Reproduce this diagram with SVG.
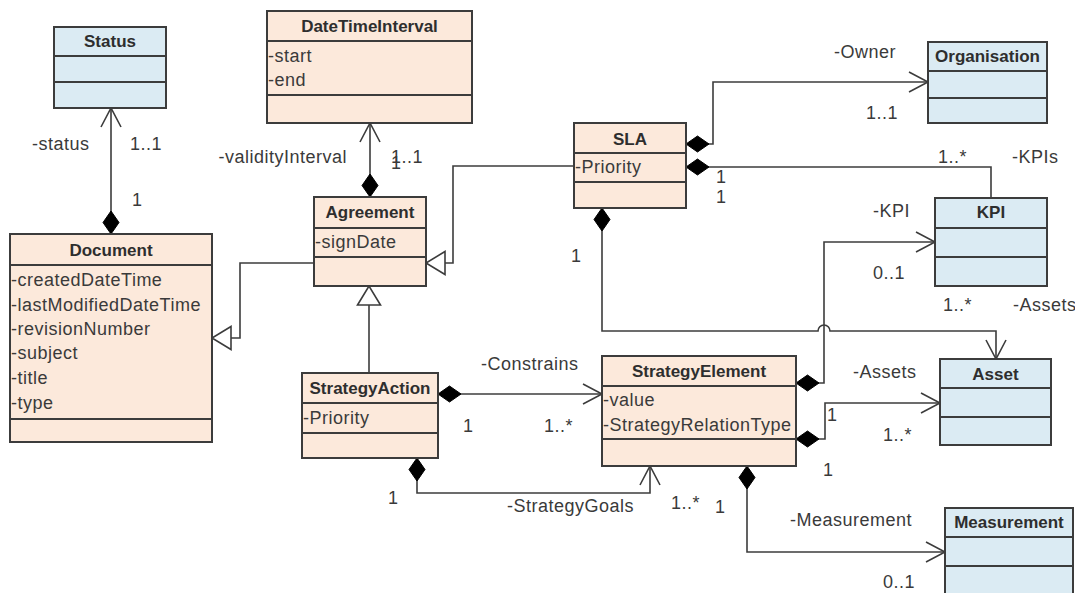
<svg xmlns="http://www.w3.org/2000/svg" width="1075" height="593" viewBox="0 0 1075 593">
<style>
  .peach { fill: #fce9db; stroke: #3c3c3c; stroke-width: 2; }
  .blue { fill: #dbebf3; stroke: #3c3c3c; stroke-width: 2; }
  .div { stroke: #3c3c3c; stroke-width: 2; }
  .title { font-family: "Liberation Sans", Arial, sans-serif; font-size: 17px; font-weight: bold; fill: #2e2e2e; text-anchor: middle; }
  .attr { font-family: "Liberation Sans", Arial, sans-serif; font-size: 18px; letter-spacing: 0.5px; fill: #3a3a3a; }
  .lbl { font-family: "Liberation Sans", Arial, sans-serif; font-size: 18px; letter-spacing: 0.5px; fill: #3a3a3a; }
  .end { text-anchor: end; }
  .conn path { fill: none; stroke: #3c3c3c; stroke-width: 1.6; }
  .comp { marker-start: url(#diamond); }
  .nav { marker-end: url(#open); }
  .gen { marker-end: url(#tri); }
</style>
<defs>
  <marker id="open" markerUnits="userSpaceOnUse" markerWidth="22" markerHeight="22" viewBox="0 0 22 22" refX="20" refY="11" orient="auto">
    <path d="M1,1 L20,11 L1,21" fill="none" stroke="#3c3c3c" stroke-width="1.6"/>
  </marker>
  <marker id="diamond" markerUnits="userSpaceOnUse" markerWidth="26" markerHeight="18" viewBox="0 0 26 18" refX="1" refY="9" orient="auto">
    <path d="M1,9 L12.5,1 L24,9 L12.5,17 Z" fill="#000" stroke="#000" stroke-width="1"/>
  </marker>
  <marker id="tri" markerUnits="userSpaceOnUse" markerWidth="22" markerHeight="26" viewBox="0 0 22 26" refX="20" refY="13" orient="auto">
    <path d="M1,1.5 L20,13 L1,24.5 Z" fill="#fff" stroke="#3c3c3c" stroke-width="1.6"/>
  </marker>
</defs>
<rect width="1075" height="593" fill="#fff"/>

<g id="connectors" class="conn">
  <path class="comp nav" d="M111,234 L111,108"/>
  <path class="comp nav" d="M370,197 L370,123"/>
  <path class="gen" d="M574,166 L453,166 L453,263 L426,263"/>
  <path class="gen" d="M314,263 L240,263 L240,338 L212,338"/>
  <path class="gen" d="M369,373 L369,286"/>
  <path class="comp nav" d="M686,144 L713,144 L713,82 L928,82"/>
  <path class="comp" d="M686,167 L991,167 L991,198"/>
  <path class="comp nav" d="M602,208 L602,331 L818,331 A6,6 0 0 1 830,331 L996,331 L996,359"/>
  <path class="comp nav" d="M796,383 L824,383 L824,242 L935,242"/>
  <path class="comp nav" d="M796,439 L825,439 L825,403 L940,403"/>
  <path class="comp nav" d="M747,466 L747,552 L945,552"/>
  <path class="comp nav" d="M438,394 L602,394"/>
  <path class="comp nav" d="M417,458 L417,493 L650,493 L650,466"/>
</g>

<g id="Status">
  <rect class="blue" x="54" y="27" width="112" height="81"/>
  <line class="div" x1="54" y1="56" x2="166" y2="56"/>
  <line class="div" x1="54" y1="82" x2="166" y2="82"/>
  <text class="title" x="110" y="47">Status</text>
</g>

<g id="DateTimeInterval">
  <rect class="peach" x="267" y="11" width="205" height="112"/>
  <line class="div" x1="267" y1="41" x2="472" y2="41"/>
  <line class="div" x1="267" y1="95" x2="472" y2="95"/>
  <text class="title" x="369.5" y="32">DateTimeInterval</text>
  <text class="attr" x="268" y="62">-start</text>
  <text class="attr" x="268" y="86">-end</text>
</g>

<g id="Document">
  <rect class="peach" x="10" y="234" width="202" height="208"/>
  <line class="div" x1="10" y1="265" x2="212" y2="265"/>
  <line class="div" x1="10" y1="419" x2="212" y2="419"/>
  <text class="title" x="111" y="256">Document</text>
  <text class="attr" x="11" y="286">-createdDateTime</text>
  <text class="attr" x="11" y="311">-lastModifiedDateTime</text>
  <text class="attr" x="11" y="335">-revisionNumber</text>
  <text class="attr" x="11" y="359">-subject</text>
  <text class="attr" x="11" y="384">-title</text>
  <text class="attr" x="11" y="409">-type</text>
</g>

<g id="Agreement">
  <rect class="peach" x="314" y="197" width="112" height="89"/>
  <line class="div" x1="314" y1="228" x2="426" y2="228"/>
  <line class="div" x1="314" y1="257" x2="426" y2="257"/>
  <text class="title" x="370" y="218">Agreement</text>
  <text class="attr" x="315" y="248">-signDate</text>
</g>

<g id="SLA">
  <rect class="peach" x="574" y="123" width="112" height="85"/>
  <line class="div" x1="574" y1="153" x2="686" y2="153"/>
  <line class="div" x1="574" y1="182" x2="686" y2="182"/>
  <text class="title" x="630" y="145">SLA</text>
  <text class="attr" x="575" y="173">-Priority</text>
</g>

<g id="Organisation">
  <rect class="blue" x="928" y="42" width="119" height="81"/>
  <line class="div" x1="928" y1="71" x2="1047" y2="71"/>
  <line class="div" x1="928" y1="98" x2="1047" y2="98"/>
  <text class="title" x="987.5" y="62">Organisation</text>
</g>

<g id="KPI">
  <rect class="blue" x="935" y="198" width="112" height="88"/>
  <line class="div" x1="935" y1="228" x2="1047" y2="228"/>
  <line class="div" x1="935" y1="257" x2="1047" y2="257"/>
  <text class="title" x="991" y="218">KPI</text>
</g>

<g id="Asset">
  <rect class="blue" x="940" y="359" width="111" height="86"/>
  <line class="div" x1="940" y1="388" x2="1051" y2="388"/>
  <line class="div" x1="940" y1="417" x2="1051" y2="417"/>
  <text class="title" x="995.5" y="380">Asset</text>
</g>

<g id="StrategyAction">
  <rect class="peach" x="302" y="373" width="136" height="85"/>
  <line class="div" x1="302" y1="403" x2="438" y2="403"/>
  <line class="div" x1="302" y1="433" x2="438" y2="433"/>
  <text class="title" x="370" y="394">StrategyAction</text>
  <text class="attr" x="303" y="424">-Priority</text>
</g>

<g id="StrategyElement">
  <rect class="peach" x="602" y="356" width="194" height="110"/>
  <line class="div" x1="602" y1="386" x2="796" y2="386"/>
  <line class="div" x1="602" y1="439" x2="796" y2="439"/>
  <text class="title" x="699" y="377">StrategyElement</text>
  <text class="attr" x="603" y="406">-value</text>
  <text class="attr" x="603" y="431">-StrategyRelationType</text>
</g>

<g id="Measurement">
  <rect class="blue" x="945" y="508" width="128" height="100"/>
  <line class="div" x1="945" y1="537" x2="1073" y2="537"/>
  <line class="div" x1="945" y1="566" x2="1073" y2="566"/>
  <text class="title" x="1009" y="528">Measurement</text>
</g>

<g id="labels">
  <text class="lbl" x="32" y="150">-status</text>
  <text class="lbl" x="130" y="150">1..1</text>
  <text class="lbl" x="132" y="206">1</text>
  <text class="lbl end" x="347" y="163">-validityInterval</text>
  <text class="lbl" x="391" y="163">1..1</text>
  <text class="lbl" x="391" y="169">1</text>
  <text class="lbl" x="834" y="58">-Owner</text>
  <text class="lbl" x="866" y="119">1..1</text>
  <text class="lbl" x="938" y="163">1..*</text>
  <text class="lbl" x="1012" y="163">-KPIs</text>
  <text class="lbl" x="716" y="183">1</text>
  <text class="lbl" x="716" y="203">1</text>
  <text class="lbl" x="873" y="217">-KPI</text>
  <text class="lbl" x="873" y="279">0..1</text>
  <text class="lbl" x="571" y="262">1</text>
  <text class="lbl" x="943" y="311">1..*</text>
  <text class="lbl" x="1013" y="311">-Assets</text>
  <text class="lbl" x="481" y="370">-Constrains</text>
  <text class="lbl" x="463" y="432">1</text>
  <text class="lbl" x="544" y="432">1..*</text>
  <text class="lbl" x="853" y="378">-Assets</text>
  <text class="lbl" x="827" y="421">1</text>
  <text class="lbl" x="883" y="441">1..*</text>
  <text class="lbl" x="823" y="476">1</text>
  <text class="lbl" x="388" y="504">1</text>
  <text class="lbl" x="507" y="512">-StrategyGoals</text>
  <text class="lbl" x="671" y="509">1..*</text>
  <text class="lbl" x="715" y="513">1</text>
  <text class="lbl" x="790" y="526">-Measurement</text>
  <text class="lbl" x="883" y="588">0..1</text>
</g>
</svg>
